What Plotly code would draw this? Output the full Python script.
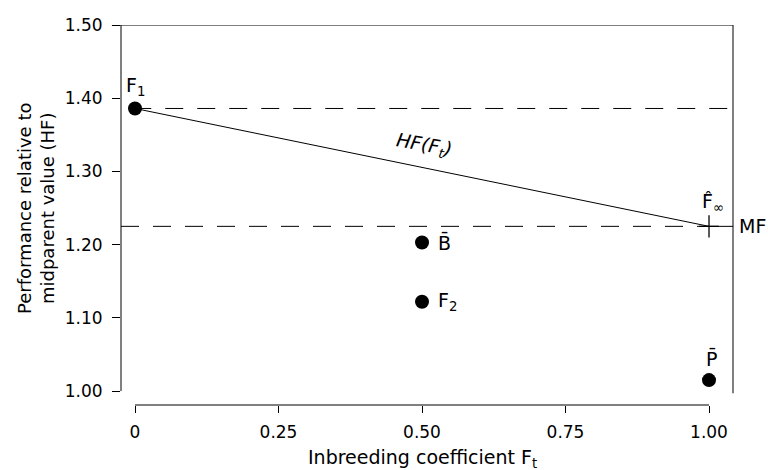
import plotly.graph_objects as go

# ---- data ----
point_labels = ["F<sub>1</sub>", "B\u0304", "F<sub>2</sub>", "P\u0304"]
point_ft = [0.0, 0.5, 0.5, 1.0]
point_perf = [1.386, 1.203, 1.122, 1.015]

hf_ft = [0.0, 1.0]
hf_perf = [1.386, 1.225]

f_inf_ft = [1.0]
f_inf_perf = [1.225]

x_tickvals = [0, 0.25, 0.5, 0.75, 1.0]
x_ticktext = ["0", "0.25", "0.50", "0.75", "1.00"]
y_tickvals = [1.0, 1.1, 1.2, 1.3, 1.4, 1.5]
y_ticktext = ["1.00", "1.10", "1.20", "1.30", "1.40", "1.50"]

FONT = "DejaVu Sans"

fig = go.Figure()

# dashed reference lines (F1 level and F-infinity level)
fig.add_shape(type="line", xref="paper", yref="y", x0=0.02, x1=1, y0=hf_perf[0], y1=hf_perf[0],
              line=dict(color="black", width=1, dash="18px,14px"))
fig.add_shape(type="line", xref="paper", yref="y", x0=0, x1=0.96, y0=hf_perf[1], y1=hf_perf[1],
              line=dict(color="black", width=1, dash="18px,14px"))
fig.add_shape(type="line", xref="x", yref="y", x0=f_inf_ft[0], x1=1.0418, y0=f_inf_perf[0], y1=f_inf_perf[0],
              line=dict(color="black", width=1))

# frame pieces
fig.add_shape(type="line", xref="paper", yref="y", x0=0, x1=0, y0=y_tickvals[0], y1=y_tickvals[-1],
              line=dict(color="black", width=1))
fig.add_shape(type="line", xref="paper", yref="y", x0=-0.015, x1=1, y0=y_tickvals[-1], y1=y_tickvals[-1],
              line=dict(color="black", width=1))
fig.add_shape(type="line", xref="paper", yref="y", x0=1, x1=1, y0=y_tickvals[0] - 0.003, y1=y_tickvals[-1],
              line=dict(color="black", width=1))
fig.add_shape(type="line", xref="x", yref="paper", x0=x_tickvals[0], x1=x_tickvals[-1], y0=0, y1=0,
              line=dict(color="black", width=1))

# HF(Ft) line
fig.add_trace(go.Scatter(x=hf_ft, y=hf_perf, mode="lines",
                         line=dict(color="black", width=1), showlegend=False, hoverinfo="skip"))

# points
fig.add_trace(go.Scatter(x=point_ft, y=point_perf, mode="markers",
                         marker=dict(color="black", size=14), showlegend=False, cliponaxis=False))

# F-infinity cross
fig.add_trace(go.Scatter(x=f_inf_ft, y=f_inf_perf, mode="markers",
                         marker=dict(symbol="line-ew", size=14, line=dict(color="black", width=1.3)),
                         showlegend=False, cliponaxis=False))
fig.add_trace(go.Scatter(x=f_inf_ft, y=f_inf_perf, mode="markers",
                         marker=dict(symbol="line-ns", size=16, line=dict(color="black", width=1.3)),
                         showlegend=False, cliponaxis=False))

lab_font = dict(family=FONT, size=19, color="black")
annos = []
# point labels
offsets = [(0, 22, "center"), (14, 0, "left"), (14, 0, "left"), (2, 22, "center")]
for lab, xv, yv, (dx, dy, anc) in zip(point_labels, point_ft, point_perf, offsets):
    annos.append(dict(x=xv, y=yv, xref="x", yref="y", text=lab, showarrow=False,
                      xanchor=anc, yanchor="middle", xshift=dx, yshift=dy, font=lab_font))
annos.append(dict(x=f_inf_ft[0], y=f_inf_perf[0], xref="x", yref="y", text="F\u0302<sub>\u221e</sub>",
                  showarrow=False, xanchor="center", yanchor="middle", xshift=4, yshift=24, font=lab_font))
annos.append(dict(x=1, y=f_inf_perf[0], xref="paper", yref="y", text="MF", showarrow=False,
                  xanchor="left", yanchor="middle", xshift=4, yshift=0, font=lab_font))
annos.append(dict(x=0.5, y=(hf_perf[0] + hf_perf[1]) / 2, xref="x", yref="y", text="<i>HF(F<sub>t</sub>)</i>",
                  showarrow=False, xanchor="center", yanchor="middle", xshift=2, yshift=22,
                  textangle=10, font=lab_font))
# axis titles
annos.append(dict(x=0, y=0.5, xref="paper", yref="paper",
                  text="Performance relative to<br>midparent value (HF)", showarrow=False,
                  textangle=-90, xanchor="center", yanchor="middle", xshift=-85, yshift=6,
                  font=dict(family=FONT, size=18, color="black")))
annos.append(dict(x=0.5, y=0, xref="x", yref="paper", text="Inbreeding coefficient F<sub>t</sub>",
                  showarrow=False, xanchor="center", yanchor="middle", yshift=-53,
                  font=dict(family=FONT, size=19, color="black")))

fig.update_layout(
    width=768, height=470,
    margin=dict(l=121, r=35, t=25, b=65),
    paper_bgcolor="white", plot_bgcolor="white",
    annotations=annos,
    showlegend=False,
    xaxis=dict(range=[-0.0244, 1.0418], tickvals=x_tickvals, ticktext=x_ticktext,
               showgrid=False, zeroline=False, showline=False,
               ticks="outside", ticklen=7, tickcolor="black", tickwidth=1,
               ticklabelstandoff=5,
               tickfont=dict(family=FONT, size=17, color="black")),
    yaxis=dict(range=[0.981, 1.5], tickvals=y_tickvals, ticktext=y_ticktext,
               showgrid=False, zeroline=False, showline=False,
               ticks="outside", ticklen=8, tickcolor="black", tickwidth=1,
               ticklabelstandoff=6,
               tickfont=dict(family=FONT, size=17, color="black")),
)

fig.write_html("out.html", config={"displayModeBar": False},
               post_script="document.body.style.margin='0';document.body.style.overflow='hidden';")
